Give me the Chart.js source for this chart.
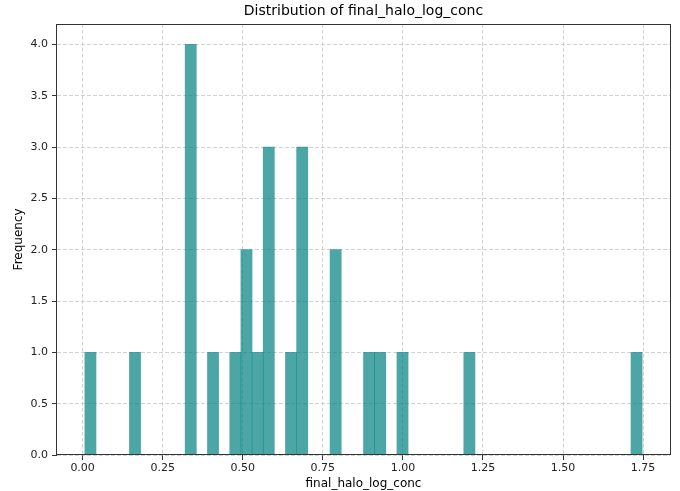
<!DOCTYPE html>
<html>
<head>
<meta charset="utf-8">
<script src="https://cdn.jsdelivr.net/npm/chart.js@4/dist/chart.umd.min.js"></script>
<style>
  html, body { margin: 0; padding: 0; background: #fff; }
  #wrap { width: 680px; height: 491px; position: relative; }
</style>
</head>
<body>
<div id="wrap"><canvas id="hist"></canvas></div>
<script>
// histogram of final_halo_log_conc, 50 bins
const BIN_START = 0.007;
const BIN_WIDTH = 0.0348;
const BIN_COUNTS = [
  1, 0, 0, 0, 1, 0, 0, 0, 0, 4,
  0, 1, 0, 1, 2, 1, 3, 0, 1, 3,
  0, 0, 2, 0, 0, 1, 1, 0, 1, 0,
  0, 0, 0, 0, 1, 0, 0, 0, 0, 0,
  0, 0, 0, 0, 0, 0, 0, 0, 0, 1
];
const X_TICKS = [0, 0.25, 0.5, 0.75, 1.0, 1.25, 1.5, 1.75];
const Y_TICKS = [0, 0.5, 1.0, 1.5, 2.0, 2.5, 3.0, 3.5, 4.0];

const FONT = "'DejaVu Sans', sans-serif";
const GRID = 'rgba(176,176,176,0.7)';
const INK = '#333';

const points = BIN_COUNTS.map((c, i) => ({ x: BIN_START + (i + 0.5) * BIN_WIDTH, y: c }));

// matplotlib style frame on all four sides
const framePlugin = {
  id: 'frame',
  afterDraw(chart) {
    const { ctx, chartArea: a } = chart;
    ctx.save();
    ctx.strokeStyle = INK;
    ctx.lineWidth = 1;
    ctx.strokeRect(Math.round(a.left) - 0.5, Math.round(a.top) + 0.5,
      Math.round(a.right - a.left) + 1, Math.round(a.bottom - a.top) - 1);
    ctx.restore();
  }
};

new Chart(document.getElementById('hist'), {
  type: 'bar',
  data: {
    datasets: [{
      data: points,
      backgroundColor: 'rgba(0,128,128,0.7)',
      borderWidth: 0,
      barPercentage: 1,
      categoryPercentage: 1
    }]
  },
  options: {
    responsive: true,
    maintainAspectRatio: false,
    animation: false,
    layout: { padding: { left: 0, right: 10, top: 0, bottom: 0 } },
    plugins: {
      legend: { display: false },
      tooltip: { enabled: false },
      title: {
        display: true,
        text: 'Distribution of final_halo_log_conc',
        fullSize: false,
        color: '#000',
        font: { family: FONT, size: 14, weight: 'normal' },
        padding: { top: 3, bottom: 4 }
      }
    },
    scales: {
      x: {
        type: 'linear',
        min: -0.080,
        max: 1.834,
        offset: false,
        z: 1,
        afterBuildTicks: s => { s.ticks = X_TICKS.map(v => ({ value: v })); },
        afterFit: s => { s.height = 36; },
        ticks: {
          color: '#222',
          font: { family: FONT, size: 11 },
          padding: 2,
          maxRotation: 0,
          callback: v => Number(v).toFixed(2)
        },
        grid: {
          offset: false,
          color: GRID,
          lineWidth: 0.8,
          tickColor: INK,
          tickLength: 5,
          tickWidth: 1,
          tickBorderDash: []
        },
        border: { display: false, dash: [4, 2] },
        title: {
          display: true,
          text: 'final_halo_log_conc',
          color: '#000',
          font: { family: FONT, size: 12 },
          padding: { top: 0, bottom: 0 }
        }
      },
      y: {
        min: 0,
        max: 4.2,
        z: 1,
        afterBuildTicks: s => { s.ticks = Y_TICKS.map(v => ({ value: v })); },
        afterFit: s => { s.width = 57; },
        ticks: {
          color: '#222',
          font: { family: FONT, size: 11 },
          padding: 4,
          callback: v => Number(v).toFixed(1)
        },
        grid: {
          color: GRID,
          lineWidth: 0.8,
          tickColor: INK,
          tickLength: 5,
          tickWidth: 1,
          tickBorderDash: []
        },
        border: { display: false, dash: [4, 2] },
        title: {
          display: true,
          text: 'Frequency',
          color: '#000',
          font: { family: FONT, size: 12 },
          padding: { top: 12, bottom: 0 }
        }
      }
    }
  },
  plugins: [framePlugin]
});
</script>
</body>
</html>
